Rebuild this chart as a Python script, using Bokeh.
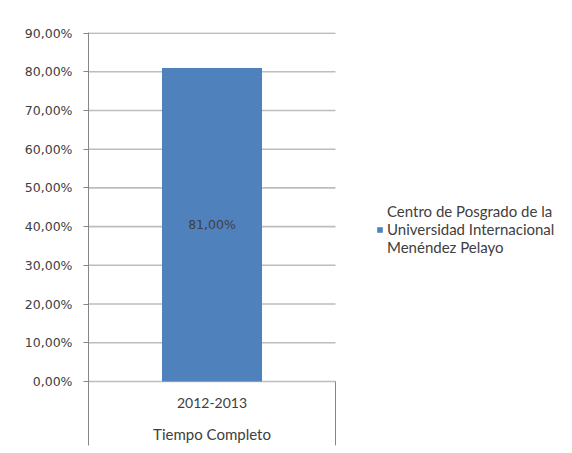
from bokeh.plotting import figure
from bokeh.models import Range1d, FixedTicker, Legend, LegendItem, BoxAnnotation
from bokeh.core.properties import value
from bokeh.embed import file_html
from bokeh.resources import INLINE

categories = ["2012-2013"]
group_label = "Tiempo Completo"
series_name = "Centro de Posgrado de la\nUniversidad Internacional\nMenéndez Pelayo"
values = [81.0]
data_labels = ["81,00%"]
tick_values = [0, 10, 20, 30, 40, 50, 60, 70, 80, 90]
tick_labels = ["0,00%", "10,00%", "20,00%", "30,00%", "40,00%", "50,00%",
               "60,00%", "70,00%", "80,00%", "90,00%"]

NUMFONT = "DejaVu Sans"
FONT = "Lato"
TXT = "#404040"
BAR = "#4F81BD"
GRID = "#BDBDBD"
AXIS = "#868686"
FRAME = "#8C8C8C"

n = len(categories)
# frame spans 88..564 px; plot area (category slots) spans 88..335 px
x_end = n * (564 - 88) / (335 - 88)
y_lo, y_hi = -16.55, 90.15

p = figure(width=564, height=448, output_backend="svg", toolbar_location=None,
           x_range=Range1d(0, x_end), y_range=Range1d(y_lo, y_hi),
           min_border_left=88, min_border_right=0, min_border_top=32,
           min_border_bottom=3)
p.outline_line_color = None
p.xaxis.visible = False
p.grid.visible = False

p.yaxis.ticker = FixedTicker(ticks=tick_values)
p.yaxis.major_label_overrides = {t: l for t, l in zip(tick_values, tick_labels)}
p.yaxis.major_label_text_font = NUMFONT
p.yaxis.major_label_text_font_size = "12.5px"
p.yaxis.major_label_text_color = TXT
p.yaxis.axis_line_color = AXIS
p.yaxis.major_tick_line_color = AXIS
p.yaxis.major_tick_in = 0
p.yaxis.major_tick_out = 5
p.yaxis.minor_tick_line_color = None
p.yaxis.major_label_standoff = 11

# horizontal gridlines limited to the plot area
p.segment(x0=[0] * len(tick_values), y0=tick_values, x1=[n] * len(tick_values),
          y1=tick_values, line_color=GRID, line_width=1.6)

xs = [i + 0.5 for i in range(n)]
r = p.vbar(x=xs, top=values, width=0.405, bottom=0, fill_color=BAR, line_color=None)

p.text(x=xs, y=[v / 2 for v in values], text=data_labels, text_align="center",
       text_baseline="middle", text_font=value(NUMFONT), text_font_size="12.5px",
       text_color=TXT)

# category axis area
p.segment(x0=[n], y0=[0], x1=[n], y1=[y_lo], line_color=AXIS, line_width=1)
p.text(x=xs, y=[-5.45] * n, text=categories, text_align="center",
       text_baseline="middle", text_font=value(FONT), text_font_size="14px",
       text_color=TXT)
p.text(x=[n / 2], y=[-13.7], text=[group_label], text_align="center",
       text_baseline="middle", text_font=value(FONT), text_font_size="15px",
       text_color=TXT)

legend = Legend(items=[LegendItem(label=series_name, renderers=[r])],
                location=(288, 189), border_line_color=None,
                background_fill_alpha=0, label_text_font=FONT,
                label_text_font_size="15px", label_text_color=TXT,
                glyph_width=7, glyph_height=7, label_standoff=4,
                padding=0, margin=0, label_text_line_height=1.3)
p.add_layout(legend, "center")

# outer picture border (left and top edges)
p.add_layout(BoxAnnotation(left=6, right=8, top=2, bottom=448,
                           left_units="canvas", right_units="canvas",
                           top_units="canvas", bottom_units="canvas",
                           fill_color=FRAME, fill_alpha=1, line_color=None))
p.add_layout(BoxAnnotation(left=6, right=564, top=2, bottom=4,
                           left_units="canvas", right_units="canvas",
                           top_units="canvas", bottom_units="canvas",
                           fill_color=FRAME, fill_alpha=1, line_color=None))

open("out.html", "w").write(file_html(p, INLINE))
